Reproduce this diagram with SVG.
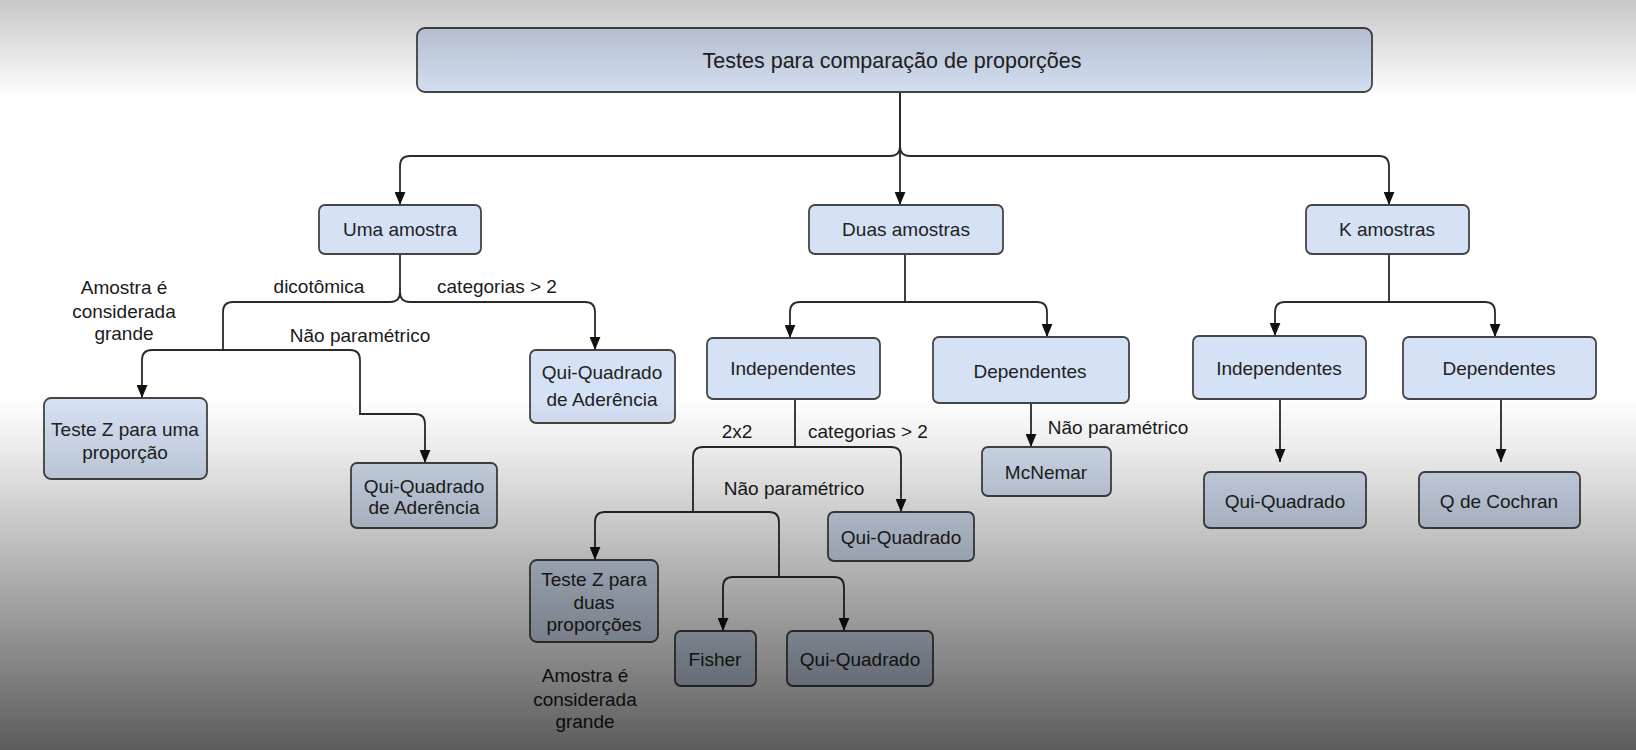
<svg xmlns="http://www.w3.org/2000/svg" width="1636" height="750" viewBox="0 0 1636 750">
<defs>
<linearGradient id="shade" x1="0" y1="0" x2="0" y2="1">
<stop offset="0" stop-color="#000" stop-opacity="0.22"/>
<stop offset="0.06" stop-color="#000" stop-opacity="0.12"/>
<stop offset="0.13" stop-color="#000" stop-opacity="0"/>
<stop offset="0.53" stop-color="#000" stop-opacity="0"/>
<stop offset="0.6" stop-color="#000" stop-opacity="0.08"/>
<stop offset="0.7" stop-color="#000" stop-opacity="0.22"/>
<stop offset="0.8" stop-color="#000" stop-opacity="0.36"/>
<stop offset="0.9" stop-color="#000" stop-opacity="0.5"/>
<stop offset="1" stop-color="#000" stop-opacity="0.64"/>
</linearGradient>
<marker id="arr" viewBox="0 0 12 10" refX="12" refY="5" markerWidth="13" markerHeight="11" markerUnits="userSpaceOnUse" orient="auto">
<path d="M0,0 L12,5 L0,10 z" fill="#111"/>
</marker>
</defs>
<style>
.node rect{fill:#d5e1f4;stroke:#454545;stroke-width:1.8}
text{font-family:"Liberation Sans",Arial,sans-serif;font-size:19px;fill:#222;text-anchor:middle}
.lbl{fill:#1a1a1a}
#connectors path{fill:none;stroke:#2a2a2a;stroke-width:1.8}
.a{marker-end:url(#arr)}
</style>
<rect x="0" y="0" width="1636" height="750" fill="#ffffff"/>

<g id="connectors">
<path d="M900,92 V146 Q900,156 890,156 H410 Q400,156 400,166 V205" class="a"/>
<path d="M900,146 Q900,156 910,156 H1379 Q1389,156 1389,166 V205" class="a"/>
<path d="M900,92 V205" class="a"/>
<path d="M400,254 V292 Q400,302 390,302 H233 Q223,302 223,312 V350"/>
<path d="M400,292 Q400,302 410,302 H585 Q595,302 595,312 V350" class="a"/>
<path d="M223,350 H152 Q142,350 142,360 V398" class="a"/>
<path d="M223,350 H350 Q360,350 360,360 V414 H415 Q425,414 425,424 V463" class="a"/>
<path d="M905,254 V302"/>
<path d="M905,302 H800 Q790,302 790,312 V338" class="a"/>
<path d="M905,302 H1037 Q1047,302 1047,312 V337" class="a"/>
<path d="M795,400 V447"/>
<path d="M795,447 H703 Q693,447 693,457 V512"/>
<path d="M795,447 H891 Q901,447 901,457 V512" class="a"/>
<path d="M693,512 H605 Q595,512 595,522 V560" class="a"/>
<path d="M693,512 H769 Q779,512 779,522 V577"/>
<path d="M779,577 H733 Q723,577 723,587 V631" class="a"/>
<path d="M779,577 H834 Q844,577 844,587 V631" class="a"/>
<path d="M1031,403 V447" class="a"/>
<path d="M1389,254 V302"/>
<path d="M1389,302 H1285 Q1275,302 1275,312 V336" class="a"/>
<path d="M1389,302 H1485 Q1495,302 1495,312 V337" class="a"/>
<path d="M1280,399 V462" class="a"/>
<path d="M1501,399 V462" class="a"/>
</g>

<g id="n-title" class="node"><rect x="417" y="28" width="955" height="64" rx="8"/><text x="892" y="68" style="font-size:21.5px">Testes para comparação de proporções</text></g>
<g id="n-uma" class="node"><rect x="319" y="205" width="162" height="49" rx="6"/><text x="400" y="236">Uma amostra</text></g>
<g id="n-duas" class="node"><rect x="809" y="205" width="194" height="49" rx="6"/><text x="906" y="236">Duas amostras</text></g>
<g id="n-k" class="node"><rect x="1306" y="205" width="163" height="49" rx="6"/><text x="1387" y="236">K amostras</text></g>

<g id="n-qqa1" class="node"><rect x="530" y="350" width="145" height="73" rx="6"/><text x="602" y="379">Qui-Quadrado</text><text x="602" y="406">de Aderência</text></g>
<g id="n-tz1" class="node"><rect x="44" y="398" width="163" height="81" rx="7"/><text x="125" y="436">Teste Z para uma</text><text x="125" y="459">proporção</text></g>
<g id="n-qqa2" class="node"><rect x="351" y="463" width="146" height="65" rx="6"/><text x="424" y="493">Qui-Quadrado</text><text x="424" y="514">de Aderência</text></g>

<g id="n-ind2" class="node"><rect x="707" y="338" width="173" height="61" rx="6"/><text x="793" y="375">Independentes</text></g>
<g id="n-dep2" class="node"><rect x="933" y="337" width="196" height="66" rx="6"/><text x="1030" y="378">Dependentes</text></g>
<g id="n-ind3" class="node"><rect x="1193" y="336" width="173" height="63" rx="6"/><text x="1279" y="375">Independentes</text></g>
<g id="n-dep3" class="node"><rect x="1403" y="337" width="193" height="62" rx="6"/><text x="1499" y="375">Dependentes</text></g>

<g id="n-mcnemar" class="node"><rect x="982" y="447" width="129" height="49" rx="6"/><text x="1046" y="479">McNemar</text></g>
<g id="n-qq3" class="node"><rect x="1204" y="472" width="162" height="56" rx="6"/><text x="1285" y="508">Qui-Quadrado</text></g>
<g id="n-cochran" class="node"><rect x="1419" y="472" width="161" height="56" rx="6"/><text x="1499" y="508">Q de Cochran</text></g>
<g id="n-qq2" class="node"><rect x="828" y="512" width="146" height="49" rx="6"/><text x="901" y="544">Qui-Quadrado</text></g>
<g id="n-tz2" class="node"><rect x="530" y="560" width="128" height="82" rx="7"/><text x="594" y="586">Teste Z para</text><text x="594" y="609">duas</text><text x="594" y="631">proporções</text></g>
<g id="n-fisher" class="node"><rect x="675" y="631" width="81" height="55" rx="6"/><text x="715" y="666">Fisher</text></g>
<g id="n-qq4" class="node"><rect x="787" y="631" width="146" height="55" rx="6"/><text x="860" y="666">Qui-Quadrado</text></g>

<g id="labels">
<text class="lbl" x="319" y="293">dicotômica</text>
<text class="lbl" x="497" y="293">categorias &gt; 2</text>
<text class="lbl" x="124" y="294">Amostra é</text>
<text class="lbl" x="124" y="318">considerada</text>
<text class="lbl" x="124" y="340">grande</text>
<text class="lbl" x="360" y="342">Não paramétrico</text>
<text class="lbl" x="737" y="438">2x2</text>
<text class="lbl" x="868" y="438">categorias &gt; 2</text>
<text class="lbl" x="794" y="495">Não paramétrico</text>
<text class="lbl" x="1118" y="434">Não paramétrico</text>
<text class="lbl" x="585" y="682">Amostra é</text>
<text class="lbl" x="585" y="706">considerada</text>
<text class="lbl" x="585" y="728">grande</text>
</g>

<rect x="0" y="0" width="1636" height="750" fill="url(#shade)" pointer-events="none"/>
</svg>
